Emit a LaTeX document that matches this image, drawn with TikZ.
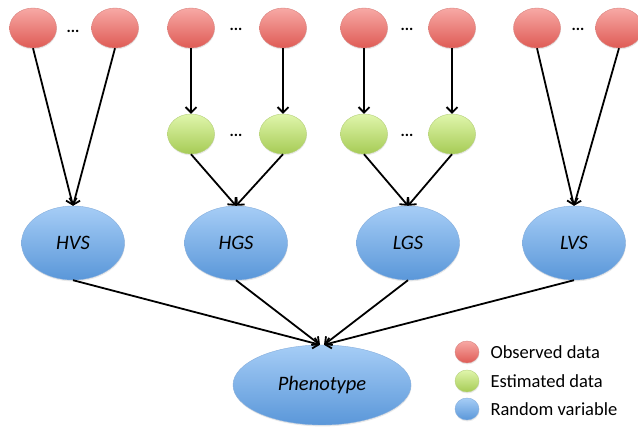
\documentclass[tikz,border=0pt]{standalone}
\usepackage{fontspec}
\setmainfont{Carlito}
\usepackage{tikz}
\usetikzlibrary{arrows.meta,shapes.geometric,shadows}
\definecolor{obsTop}{HTML}{F7A9A5}
\definecolor{obsBot}{HTML}{DF5B55}
\definecolor{obsLine}{HTML}{D9837F}
\definecolor{estTop}{HTML}{E0F6AC}
\definecolor{estBot}{HTML}{A6CB55}
\definecolor{estLine}{HTML}{B5D07A}
\definecolor{rvTop}{HTML}{A6CDF6}
\definecolor{rvBot}{HTML}{5A97D9}
\definecolor{rvLine}{HTML}{86AEDC}

\begin{document}
\begin{tikzpicture}[x=1pt,y=-1pt,
  blob/.style={ellipse,inner sep=0pt,line width=0.4pt,
    drop shadow={opacity=0.18,shadow xshift=0.4pt,shadow yshift=-1.4pt}},
  obs/.style={blob,minimum width=47pt,minimum height=40pt,
    top color=obsTop,bottom color=obsBot,draw=obsLine},
  est/.style={blob,minimum width=47pt,minimum height=40pt,
    top color=estTop,bottom color=estBot,draw=estLine},
  rv/.style={blob,minimum width=103pt,minimum height=74pt,
    top color=rvTop,bottom color=rvBot,draw=rvLine,
    font=\itshape\fontsize{20.5}{22}\selectfont},
  arr/.style={-{Straight Barb[length=5.5pt,width=11pt,line width=1.8pt]},line width=1.8pt},
  dots/.style={font=\bfseries\fontsize{16}{16}\selectfont},
  legtext/.style={anchor=west,font=\fontsize{18.5}{20}\selectfont}]
  \useasboundingbox (0,0) rectangle (638,427);
  % observed data
  \node[obs] (r1a) at (33,28) {};
  \node[obs] (r1b) at (115,28) {};
  \node[obs] (r2a) at (191,28) {};
  \node[obs] (r2b) at (283,28) {};
  \node[obs] (r3a) at (364,28) {};
  \node[obs] (r3b) at (452,28) {};
  \node[obs] (r4a) at (537,28) {};
  \node[obs] (r4b) at (619,28) {};
  \node[dots] (d1) at (73,31) {...};
  \node[dots] (d2) at (236,29) {...};
  \node[dots] (d3) at (407,29) {...};
  \node[dots] (d4) at (578,29) {...};
  % estimated data
  \node[est] (g2a) at (191,134) {};
  \node[est] (g2b) at (283,134) {};
  \node[est] (g3a) at (364,134) {};
  \node[est] (g3b) at (452,134) {};
  \node[dots] (e2) at (236,135) {...};
  \node[dots] (e3) at (407,135) {...};
  % random variables
  \node[rv] (hvs) at (73,243) {HVS};
  \node[rv] (hgs) at (236,243) {HGS};
  \node[rv] (lgs) at (408,243) {LGS};
  \node[rv] (lvs) at (574,243) {LVS};
  \node[rv,minimum width=178pt,minimum height=80pt] (phen) at (322,385) {Phenotype};
  % arrows
  \draw[arr] (r1a.south) -- (hvs.north);
  \draw[arr] (r1b.south) -- (hvs.north);
  \draw[arr] (r2a.south) -- (g2a.north);
  \draw[arr] (r2b.south) -- (g2b.north);
  \draw[arr] (r3a.south) -- (g3a.north);
  \draw[arr] (r3b.south) -- (g3b.north);
  \draw[arr] (g2a.south) -- (hgs.north);
  \draw[arr] (g2b.south) -- (hgs.north);
  \draw[arr] (g3a.south) -- (lgs.north);
  \draw[arr] (g3b.south) -- (lgs.north);
  \draw[arr] (r4a.south) -- (lvs.north);
  \draw[arr] (r4b.south) -- (lvs.north);
  \draw[arr] (hvs.south) -- ([xshift=-2pt]phen.north);
  \draw[arr] (hgs.south) -- ([xshift=-2pt]phen.north);
  \draw[arr] (lgs.south) -- ([xshift=2pt]phen.north);
  \draw[arr] (lvs.south) -- ([xshift=2pt]phen.north);
  % legend
  \node[obs,minimum width=24pt,minimum height=22pt] (lobs) at (467,352) {};
  \node[est,minimum width=24pt,minimum height=22pt] (lest) at (467,381) {};
  \node[rv,minimum width=24pt,minimum height=22pt] (lrv) at (467,409) {};
  \node[legtext] at (487,352) {Observed data};
  \node[legtext] at (487,381) {Estimated data};
  \node[legtext] at (487,409) {Random variable};
\end{tikzpicture}
\end{document}
